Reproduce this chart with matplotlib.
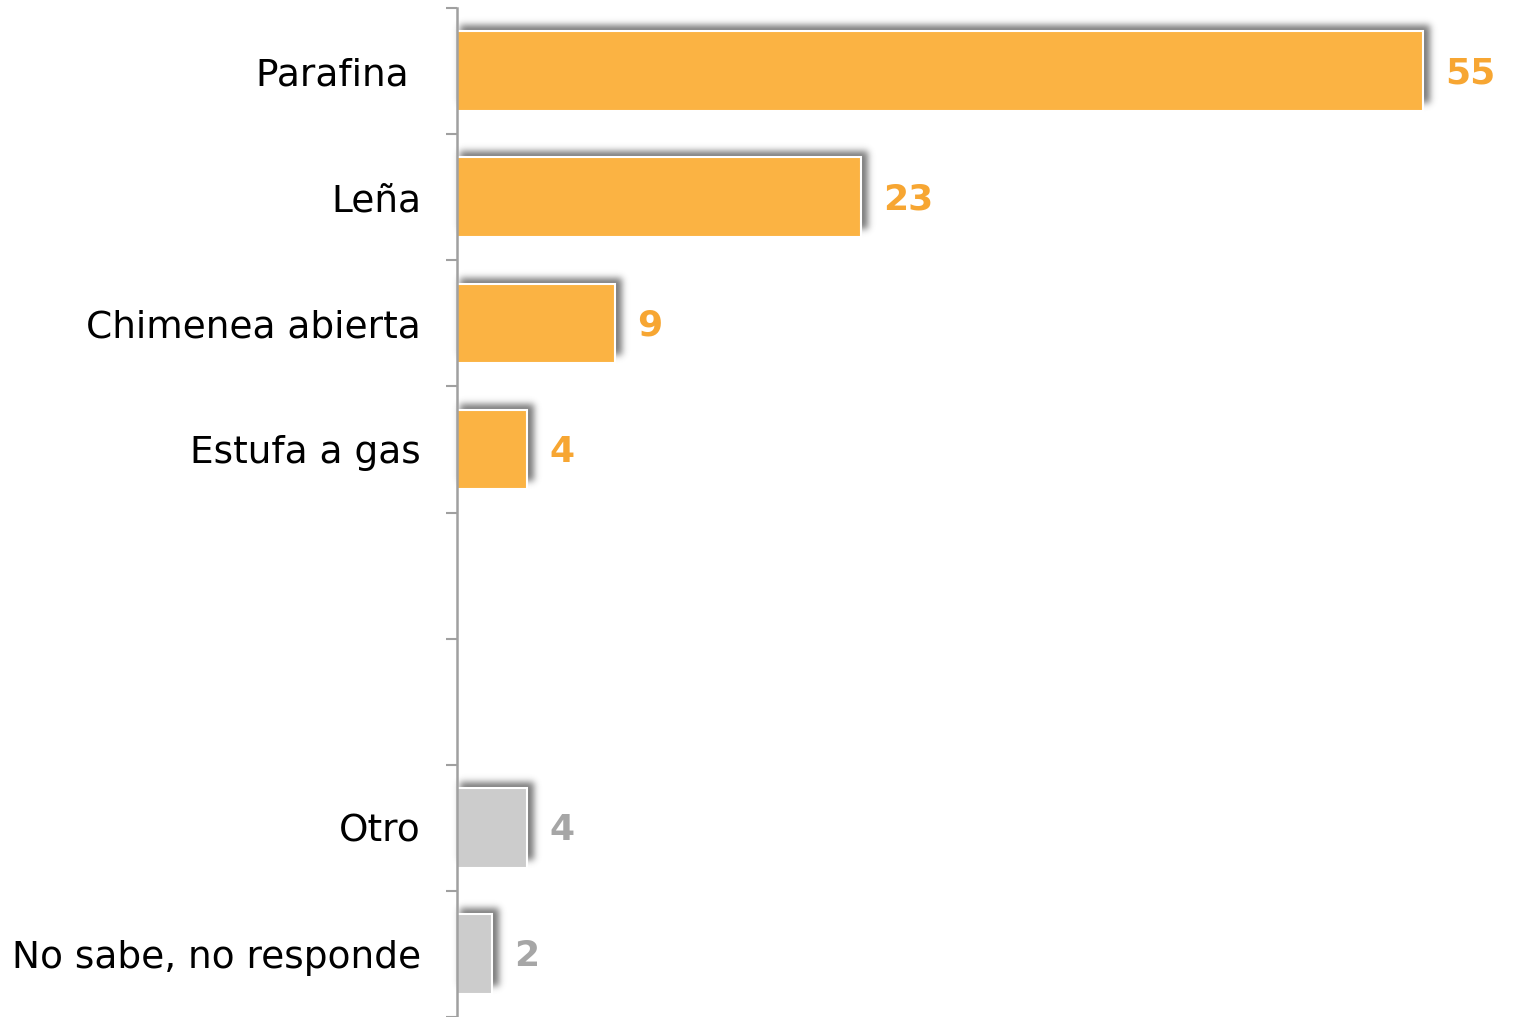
import matplotlib
matplotlib.use("Agg")
import matplotlib.pyplot as plt
from matplotlib.patches import Rectangle
import numpy as np

# heating sources, top to bottom; None marks an empty slot
categories = ["Parafina ", "Leña", "Chimenea abierta", "Estufa a gas",
              None, None, "Otro", "No sabe, no responde"]
values = [55, 23, 9, 4, None, None, 4, 2]
groups = ["main", "main", "main", "main", None, None, "other", "other"]

bar_colors = {"main": "#FBB343", "other": "#CCCCCC"}
label_colors = {"main": "#F7A632", "other": "#A6A6A6"}


def blur_shadow(im, dpi):
    # gaussian blur of the alpha channel, drawn as a grey drop shadow
    pad = 16
    a = np.pad(im[..., 3], pad)
    r = 11
    k = np.exp(-0.5 * (np.arange(-r, r + 1) / 3.4) ** 2)
    k /= k.sum()
    for axis in (0, 1):
        b = np.zeros_like(a)
        for j, w in zip(range(-r, r + 1), k):
            b += w * np.roll(a, j, axis=axis)
        a = b
    out = np.zeros(a.shape + (4,))
    out[..., :3] = 0.35
    out[..., 3] = np.clip(a * 0.8, 0, 1)
    return out, -pad, -pad


W, H, DPI = 1521, 1017, 100
fig = plt.figure(figsize=(W / DPI, H / DPI), dpi=DPI)
ax = fig.add_axes([457 / W, 0, 1 - 457 / W, 1 - 8 / H])

n = len(categories)
xmax = (W - 457) / 17.56
ax.set_xlim(0, xmax)
ax.set_ylim(n, 0)

# pixel -> data conversions for offsets
px_x = xmax / (W - 457)
px_y = n / (H - 8)

bar_h = 0.63
for i, (cat, val, grp) in enumerate(zip(categories, values, groups)):
    if val is None:
        continue
    yc = i + 0.5
    # shadow shifted up and to the right, then blurred
    sh = Rectangle((3 * px_x, yc - bar_h / 2 - 6 * px_y), val + 4 * px_x,
                   bar_h - 2 * px_y, facecolor="black", edgecolor="none",
                   zorder=1)
    sh.set_agg_filter(blur_shadow)
    ax.add_patch(sh)
    ax.barh(yc, val, height=bar_h, color=bar_colors[grp],
            edgecolor="white", linewidth=1.5, zorder=2)
    ax.text(val + 22 * px_x, yc + 0.02, str(val), ha="left", va="center",
            fontsize=26, fontweight="bold", color=label_colors[grp])

# category labels at bar centres, tick marks at slot boundaries
ax.set_yticks([i + 0.5 for i, c in enumerate(categories) if c is not None])
ax.set_yticklabels([c for c in categories if c is not None], fontsize=27)
ax.tick_params(axis="y", which="major", length=0, pad=26)
ax.set_yticks(np.arange(0, n + 1), minor=True)
ax.tick_params(axis="y", which="minor", length=8, width=1.5,
               color="#A0A0A0", direction="out")

ax.set_xticks([])
for side in ["top", "right", "bottom"]:
    ax.spines[side].set_visible(False)
ax.spines["left"].set_color("#A0A0A0")
ax.spines["left"].set_linewidth(1.8)
ax.spines["left"].set_zorder(3)

fig.savefig("out.png", dpi=DPI)
